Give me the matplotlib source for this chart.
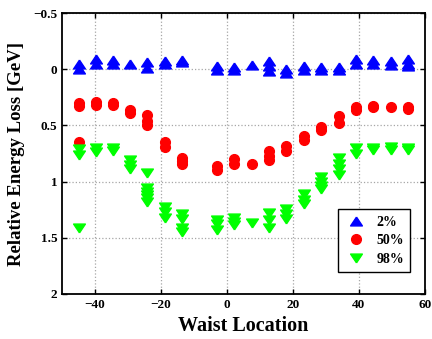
import numpy as np
from matplotlib import pyplot as plt
from matplotlib.ticker import FixedLocator

plt.rcParams['font.family'] = ['Liberation Serif', 'DejaVu Serif']
plt.rcParams['font.weight'] = 'bold'

# waist positions (several shots per position)
x_loc = [-45, -39.7, -34.5, -29.3, -24.2, -18.9, -13.6, -3.0, 2.2, 7.5,
         12.8, 18.0, 23.3, 28.5, 33.8, 39.0, 44.3, 49.6, 54.8]

# energy loss read per position, 2% / 50% / 98% levels
loss_2 = [[-0.05, 0.0], [-0.09, -0.05], [-0.08, -0.05], [-0.05], [-0.06, -0.01],
          [-0.07, -0.05], [-0.08, -0.06], [-0.03, 0.01], [-0.02, 0.01], [-0.04],
          [-0.07, -0.03, 0.02], [0.0, 0.03], [-0.03, 0.01], [-0.02, 0.01],
          [-0.02, 0.01], [-0.09, -0.05], [-0.08, -0.05], [-0.07, -0.04],
          [-0.09, -0.05, -0.03]]
loss_50 = [[0.30, 0.33, 0.65], [0.29, 0.32], [0.30, 0.32], [0.36, 0.39],
           [0.41, 0.46, 0.50], [0.65, 0.69], [0.79, 0.82, 0.84], [0.86, 0.90],
           [0.80, 0.84], [0.84], [0.73, 0.77, 0.81], [0.68, 0.73], [0.59, 0.63],
           [0.51, 0.54], [0.42, 0.48], [0.34, 0.36], [0.33, 0.34], [0.34],
           [0.34, 0.35]]
loss_98 = [[0.71, 0.76, 1.41], [0.70, 0.74], [0.70, 0.73], [0.81, 0.85, 0.89],
           [0.92, 1.06, 1.09, 1.12, 1.15, 1.18], [1.23, 1.27, 1.32],
           [1.29, 1.33, 1.41, 1.45], [1.34, 1.38, 1.43], [1.32, 1.36, 1.39], [1.37],
           [1.28, 1.34, 1.41], [1.24, 1.29, 1.33], [1.11, 1.16, 1.20],
           [0.96, 1.00, 1.04, 1.07], [0.79, 0.84, 0.89, 0.94], [0.70, 0.75],
           [0.70, 0.72], [0.69, 0.72], [0.70, 0.72]]

labels = ['2%', '50%', '98%']
x_ticks = [-40, -20, 0, 20, 40, 60]
y_ticks = [-0.5, 0, 0.5, 1, 1.5, 2]
y_tick_labels = ['\u22120.5', '0', '0.5', '1', '1.5', '2']


def flatten(groups):
    xs, ys = [], []
    for x, vals in zip(x_loc, groups):
        for v in vals:
            xs.append(x)
            ys.append(v)
    return xs, ys


# flattened triangle markers (MATLAB style)
tri_up = [(0, 0.75), (-1, -0.75), (1, -0.75), (0, 0.75)]
tri_down = [(0, -0.75), (-1, 0.75), (1, 0.75), (0, -0.75)]

fig = plt.figure(figsize=(4.32, 3.39), dpi=100)
ax = fig.add_axes([62 / 432, 45 / 339, 363 / 432, 281 / 339])

x, y = flatten(loss_2)
ax.plot(x, y, linestyle='none', marker=tri_up, ms=8.5, color='blue', label=labels[0])
x, y = flatten(loss_50)
ax.plot(x, y, linestyle='none', marker='o', ms=7, color='red', label=labels[1])
x, y = flatten(loss_98)
ax.plot(x, y, linestyle='none', marker=tri_down, ms=8.5, color=(0, 1, 0), label=labels[2])

ax.set_xlim(-50, 60)
ax.set_ylim(2, -0.5)
ax.xaxis.set_major_locator(FixedLocator(x_ticks))
ax.set_yticks(y_ticks)
ax.set_yticklabels(y_tick_labels)
ax.set_xticklabels(['\u2212%d' % -t if t < 0 else '%d' % t for t in x_ticks])
ax.grid(True, linestyle=':', color='0.65', linewidth=0.9)
ax.tick_params(direction='in', top=True, right=True, length=3.5, width=1,
               labelsize=9.5)
for s in ax.spines.values():
    s.set_linewidth(1.3)

ax.set_xlabel('Waist Location', fontsize=14.5, fontweight='bold', labelpad=4)
ax.set_ylabel('Relative Energy Loss [GeV]', fontsize=13.5, fontweight='bold', labelpad=6)

leg = ax.legend(loc='lower right', bbox_to_anchor=(0.959, 0.078), borderaxespad=0,
                fancybox=False, edgecolor='black', framealpha=1, fontsize=10,
                handletextpad=0.6, labelspacing=0.4, borderpad=0.45,
                handlelength=1.7)
leg.get_frame().set_linewidth(1.0)

fig.savefig('out.png', dpi=100)
